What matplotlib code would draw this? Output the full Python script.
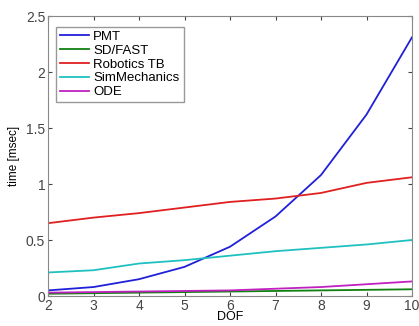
import numpy as np
import matplotlib.pyplot as plt

plt.rcParams['font.family'] = ['Liberation Sans', 'DejaVu Sans']

dof = [2, 3, 4, 5, 6, 7, 8, 9, 10]
pmt = [0.05, 0.08, 0.15, 0.26, 0.44, 0.71, 1.08, 1.62, 2.31]
sdfast = [0.02, 0.025, 0.03, 0.035, 0.04, 0.045, 0.05, 0.055, 0.06]
robotics = [0.65, 0.70, 0.74, 0.79, 0.84, 0.87, 0.92, 1.01, 1.06]
simmech = [0.21, 0.23, 0.29, 0.32, 0.36, 0.40, 0.43, 0.46, 0.50]
ode = [0.03, 0.035, 0.04, 0.045, 0.05, 0.065, 0.08, 0.105, 0.13]

names = ['PMT', 'SD/FAST', 'Robotics TB', 'SimMechanics', 'ODE']
colors = ['#2020d8', '#108010', '#e02020', '#20c0c0', '#c020c0']

fig = plt.figure(figsize=(4.19, 3.26), dpi=100)
ax = fig.add_axes([48/419, 1-296/326, 364/419, 280/326])

for s, n, c in zip([pmt, sdfast, robotics, simmech, ode], names, colors):
    ax.plot(dof, s, color=c, lw=1.3, label=n)

ax.set_xlim(2, 10)
ax.set_ylim(0, 2.5)
ax.set_xticks(dof)
ax.set_yticks([0, 0.5, 1, 1.5, 2, 2.5])
ax.set_yticklabels(['0', '0.5', '1', '1.5', '2', '2.5'])
ax.tick_params(direction='in', top=True, right=True, labelsize=10, length=3, pad=2, colors='#444444')
for sp in ax.spines.values():
    sp.set_color('#888888')
ax.set_xlabel('DOF', fontsize=9, labelpad=-1)
ax.set_ylabel('time [msec]', fontsize=8.5, labelpad=4)

leg = ax.legend(loc='upper left', fontsize=9.5, handlelength=2.2, handletextpad=0.3,
                labelspacing=0.12, borderpad=0.3, fancybox=False, framealpha=1,
                bbox_to_anchor=(0.005, 0.985))
leg.get_frame().set_edgecolor('#999999')
leg.get_frame().set_linewidth(1.0)

fig.savefig('out.png', dpi=100)
